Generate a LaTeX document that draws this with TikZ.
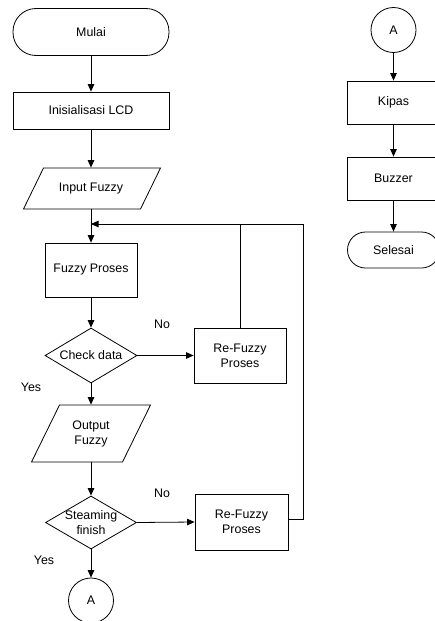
\documentclass[tikz,border=0pt]{standalone}
\usepackage{fontspec}
\setmainfont{Liberation Sans}
\usetikzlibrary{arrows.meta,shapes.geometric}
\begin{document}
\begin{tikzpicture}[x=1pt,y=-1pt,line width=0.8pt,
  every node/.style={font=\fontsize{12.4}{15}\selectfont,align=center,inner sep=0pt},
  box/.style={draw,rectangle},
  term/.style={draw,rectangle},
  io/.style={rectangle},
  decide/.style={draw,diamond},
  conn/.style={draw,circle,minimum size=45pt},
  arr/.style={-{Triangle[length=7.5pt,width=6.5pt]}},
  lbl/.style={}]
\useasboundingbox (0,0) rectangle (435,621);
% left column
\node[term,rounded corners=23pt,minimum width=156pt,minimum height=47pt] (mulai) at (91,32) {Mulai};
\node[box,minimum width=156pt,minimum height=37pt] (lcd) at (91,110.5) {Inisialisasi LCD};
\node[io,minimum width=100pt,minimum height=41pt] (in) at (91,188.5) {Input Fuzzy};
\draw (43.5,168) -- (160.5,168) -- (140.5,209) -- (23.5,209) -- cycle;
\coordinate (merge) at (91,224);
\node[box,minimum width=92pt,minimum height=54pt] (fp) at (91,270) {Fuzzy Proses};
\node[decide,minimum width=92pt,minimum height=55pt,label={[align=center]center:Check data}] (chk) at (91,355.5) {};
\node[box,minimum width=92pt,minimum height=55pt] (re1) at (240,355.5) {Re-Fuzzy\\Proses};
\node[io,minimum width=90pt,minimum height=57pt] (out) at (91,433.5) {Output\\Fuzzy};
\draw (59.5,405) -- (150.5,405) -- (122.5,462) -- (31.5,462) -- cycle;
\node[decide,minimum width=91pt,minimum height=53pt,label={[align=center]center:Steaming\\finish}] (steam) at (91,522.5) {};
\node[box,minimum width=93pt,minimum height=56pt] (re2) at (241.5,522) {Re-Fuzzy\\Proses};
\node[conn] (a1) at (91,600.5) {A};
% labels
\node[lbl] (no1) at (162,324) {No};
\node[lbl] (yes1) at (31,387) {Yes};
\node[lbl] (no2) at (162,493) {No};
\node[lbl] (yes2) at (44,560) {Yes};
% right column
\node[conn] (a2) at (393.5,30) {A};
\node[box,minimum width=92pt,minimum height=43pt] (kipas) at (393.5,102.5) {Kipas};
\node[box,minimum width=92pt,minimum height=43pt] (buzzer) at (393.5,178.5) {Buzzer};
\node[term,rounded corners=18pt,minimum width=92pt,minimum height=36pt] (selesai) at (393.5,250) {Selesai};
% connectors
\draw[arr] (mulai.south) -- (lcd.north);
\draw[arr] (lcd.south) -- (in.north);
\draw[arr] (in.south) -- (fp.north);
\draw[arr] (fp.south) -- (chk.north);
\draw[arr] (chk.east) -- (re1.west);
\draw (re1.north) -- (re1.north |- merge);
\draw[arr] ([yshift=3pt]re2.east) -- ++(15,0) |- (merge);
\draw[arr] (chk.south) -- (out.north);
\draw[arr] (out.south) -- (steam.north);
\draw[arr] (steam.east) -- (re2.west);
\draw[arr] (steam.south) -- (a1.north);
\draw[arr] (a2.south) -- (kipas.north);
\draw[arr] (kipas.south) -- (buzzer.north);
\draw[arr] (buzzer.south) -- (selesai.north);
\end{tikzpicture}
\end{document}
